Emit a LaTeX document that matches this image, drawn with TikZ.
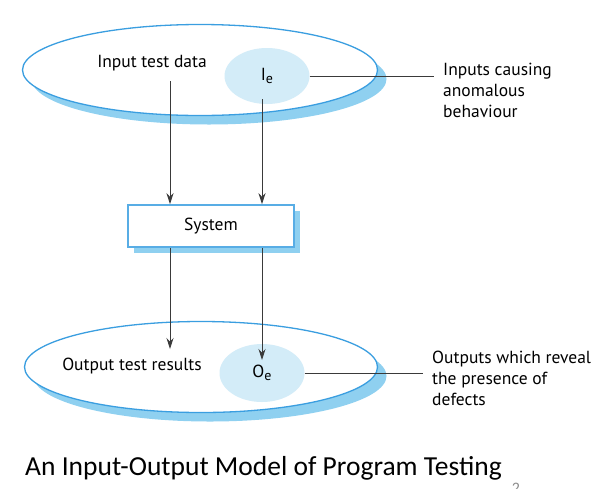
\documentclass[tikz,border=0pt]{standalone}
\usepackage{fontspec}
\setmainfont{PT Sans}
\newfontfamily\titlefont{Carlito}
\usetikzlibrary{arrows.meta,%
                shapes.geometric,%
                shadows}
\definecolor{rim}{HTML}{3A9EE0}
\definecolor{shade}{HTML}{8FD0F0}
\definecolor{spot}{HTML}{D3ECF8}
\definecolor{wirecol}{HTML}{3A3A3A}
\newcommand{\idx}[1]{\raisebox{-0.35ex}{\fontsize{14}{14}\selectfont #1}}

\begin{document}
\begin{tikzpicture}[x=1pt,y=-1pt,>={Stealth[length=11pt,width=7pt]}]
  \tikzstyle{txt}=[font=\fontsize{17.5}{21}\selectfont,inner sep=0pt]
  \tikzstyle{zone}=[ellipse,draw=rim,line width=1.3pt,fill=white,inner sep=0pt,
    drop shadow={fill=shade,opacity=1,shadow xshift=9pt,shadow yshift=-9pt}]
  \tikzstyle{subset}=[txt,ellipse,fill=spot,minimum width=85pt,minimum height=56pt]
  \tikzstyle{note}=[txt,align=left,anchor=west,inner xsep=9pt]
  \tikzstyle{link}=[draw=wirecol,line width=0.9pt]
  \useasboundingbox (0,0) rectangle (596,488);
  % inputs
  \node[zone,minimum width=355pt,minimum height=91pt] (In) at (200,70) {};
  \node[txt] (InTxt) at (152,63) {Input test data};
  \node[subset] (Ie) at (267,76) {I\idx{e}};
  \node[note] (IeNote) at (434,90) {Inputs causing\\anomalous\\behaviour};
  \draw[link] (Ie.east) -- (Ie.east -| IeNote.west);
  % system
  \node[txt,draw=rim!85,line width=1.6pt,fill=white,minimum width=166pt,minimum height=42pt,
    drop shadow={fill=shade,opacity=1,shadow xshift=6pt,shadow yshift=-6pt}] (Sys) at (211,226) {System};
  % outputs
  \node[zone,minimum width=353pt,minimum height=91pt] (Out) at (201,367) {};
  \node[txt] (OutTxt) at (132,366) {Output test results};
  \node[subset,minimum height=58pt] (Oe) at (262,373) {O\idx{e}};
  \node[note] (OeNote) at (423,378) {Outputs which reveal\\the presence of\\defects};
  \draw[link] (Oe.east) -- (Oe.east -| OeNote.west);
  % flow
  \coordinate (p1) at (170,81);
  \coordinate (p2) at (262,99);
  \coordinate (q1) at (170,349);
  \coordinate (q2) at (262,360);
  \draw[link,->] (p1) -- (p1 |- Sys.north);
  \draw[link,->] (p2) -- (p2 |- Sys.north);
  \draw[link,->] (p1 |- Sys.south) -- (q1);
  \draw[link,->] (p2 |- Sys.south) -- (q2);
  % caption
  \node[anchor=base west,inner sep=0pt,font=\titlefont\fontsize{27.5}{30}\selectfont] (Title) at (25,475) {An Input-Output Model of Program Testing};
  \node[anchor=north,inner sep=0pt,text=black!45,font=\titlefont\fontsize{16}{16}\selectfont] (Pg) at (516,483) {2};
\end{tikzpicture}
\end{document}
